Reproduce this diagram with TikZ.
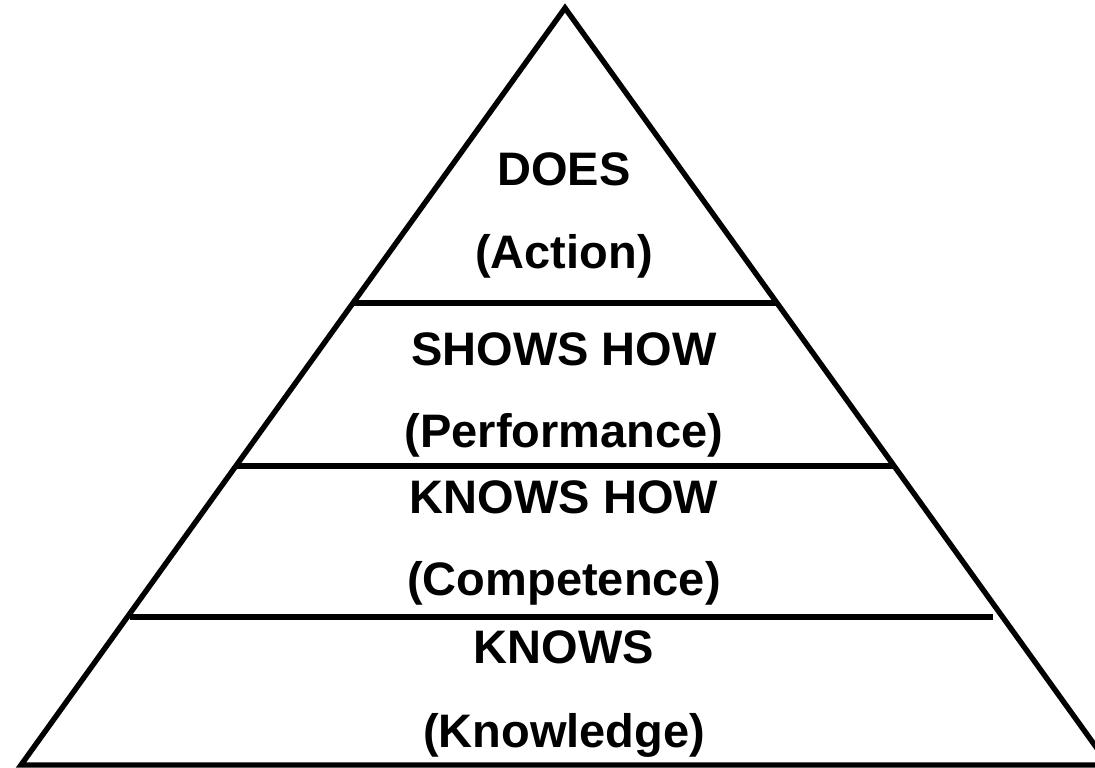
\documentclass[tikz,border=0pt]{standalone}
\usepackage{fontspec}
\setmainfont{Liberation Sans}
\tikzset{
    tier/.style={line width=5.4pt},
    lbl/.style={font=\bfseries\fontsize{47}{56}\selectfont,anchor=base,inner sep=0pt}
}
\begin{document}
\begin{tikzpicture}[x=1pt,y=-1pt]
        \useasboundingbox (0,0) rectangle (1095,768);
        \clip (0,0) rectangle (1095,768);
        \coordinate (top) at (565,8);
        \coordinate (bl) at (21,765);
        \coordinate (br) at (1109,765);
        \draw[tier,line join=miter] (bl) -- (top) -- (br) -- cycle;
        \draw[tier] (353,303) -- (777,303);
        \draw[tier] (237,466) -- (893,466);
        \draw[tier] (130,617) -- (993,617);
        \foreach \n/\y/\t in {
            does/185/DOES,
            action/268/(Action),
            shows/365/SHOWS HOW,
            perf/447/(Performance),
            knowshow/513/KNOWS HOW,
            comp/595/(Competence),
            knows/663/KNOWS,
            know/747/(Knowledge)
        }
            \node[lbl] (\n) at (564,\y) {\t};
    \end{tikzpicture}
\end{document}
